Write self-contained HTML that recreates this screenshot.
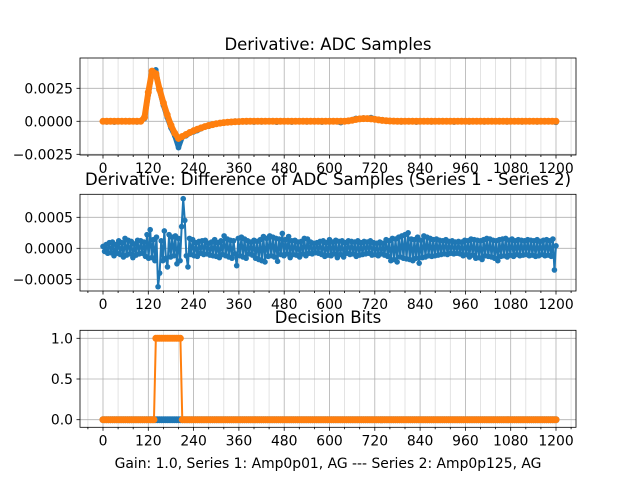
<!DOCTYPE html>
<html><head><meta charset="utf-8"><style>
html,body{margin:0;padding:0;background:#fff}
svg{display:block;font-family:"DejaVu Sans","Liberation Sans",sans-serif}
</style></head><body>
<svg id="fig" width="640" height="480" viewBox="0 0 640 480" xmlns="http://www.w3.org/2000/svg">
<rect width="640" height="480" fill="#fff"/>
<text x="328" y="50" font-size="16.5" text-anchor="middle">Derivative: ADC Samples</text>
<text x="328" y="185" font-size="16.5" text-anchor="middle">Derivative: Difference of ADC Samples (Series 1 - Series 2)</text>
<text x="328" y="323" font-size="16.5" text-anchor="middle">Decision Bits</text>
<text x="328" y="468" font-size="13.9" text-anchor="middle">Gain: 1.0, Series 1: Amp0p01, AG --- Series 2: Amp0p125, AG</text>
<g id="p1"></g>
<g id="p2"></g>
<g id="p3"></g>
</svg>
<script>
const xTicks = [0,120,240,360,480,600,720,840,960,1080,1200];
// Plot 1 (units 1e-4), one value per 10 samples
const adcOrange = [0,0,0,0,0,0,0,0,0,0,0,3,22,38,36,24,14,5,-3,-9,-13,-11.5,-10,-8.5,-7.2,-6,-5,-4,-3.2,-2.5,-1.9,-1.4,-1,-0.7,-0.5,-0.3,-0.2,-0.1,0,0,0,0,0,0,0,0,0,0,0,0,0,0,0,0,0,0,0,0,0,0,0,0,0,0,0,0.3,0.8,1.4,1.8,2,2,1.8,1.5,1.1,0.7,0.4,0.2,0.1,0,0,0,0,0,0,0,0,0,0,0,0,0,0,0,0,0,0,0,0,0,0,0,0,0,0,0,0,0,0,0,0,0,0,0,0,0,0,0,0,0,0,0];
const adcBlue = [0,-0.5,0.4,-0.6,0.3,-0.4,0.5,-0.3,0.2,-0.5,0.3,2,20,37,39,23,12,3,-5,-11,-20,-12,-11,-9,-8,-7,-5.6,-4.2,-3.8,-2.9,-2.2,-1.6,-1.2,-0.6,-0.9,0.2,-0.6,0.4,-0.5,0.3,-0.6,0.2,-0.5,0.4,-0.3,0.5,-0.7,0.2,-0.4,0.3,-0.6,0.4,-0.2,0.5,-0.5,0.3,-0.4,0.2,-0.6,0.4,-0.3,0.5,-0.4,-1,0.2,0.6,1.2,2.2,1.8,2.6,2.3,2.8,1.9,1.5,1.2,0.5,0.6,-0.2,0.4,-0.5,0.2,-0.4,0.5,-0.6,0.3,-0.3,0.4,-0.5,0.2,-0.4,0.5,-0.3,0.3,-0.6,0.4,-0.2,0.3,-0.5,0.4,-0.4,0.2,-0.5,0.5,-0.3,0.3,-0.4,0.4,-0.5,0.2,-0.3,0.4,-0.5,0.3,-0.4,0.2,-0.5,0.4,-0.3,0.3,-0.4,-0.8];
const y1Ticks = [-0.0025,0,0.0025];
const y1Labels = ["\u22120.0025","0.0000","0.0025"];
// Plot 2 (units 1e-5), evenly spread over 0..1200
const diffVals = [
3,-5,6,-8,9,-7,10,-12,6,-8,12,-10,9,-14,16,-11,13,-9,11,-15,7,-11,13,-9,12,-8,10,-13,22,-16,30,-15,14,-20,18,-62,-40,12,-20,28,-16,-30,22,-14,18,-12,20,-25,16,-20,35,80,45,-12,-30,16,-10,14,-12,9,
-13,11,-8,12,-10,13,-9,8,-11,10,-12,14,-13,9,-15,12,-10,20,-12,15,-14,13,-16,12,-9,-28,16,-12,18,-14,15,-16,12,-9,10,-11,13,-16,11,-18,14,-20,19,-22,16,-13,20,-12,18,-14,16,-21,15,-10,24,-12,14,-9,19,
-15,12,-10,13,-11,10,-14,11,-9,16,-12,15,-8,10,-9,8,-7,9,-8,11,-10,12,-13,9,-11,14,-12,10,-9,13,-15,11,-10,12,-14,9,-8,12,-10,11,-9,10,-13,12,-11,9,-10,11,-9,10,-8,12,-11,9,-10,8,-12,10,-9,8,
-11,14,-13,12,-20,16,-18,15,-22,18,-14,20,-16,22,-17,25,-18,15,-20,14,-16,18,-24,13,-15,20,-14,18,-12,16,-13,14,-12,15,-11,13,-10,12,-9,14,-10,11,-8,12,-9,10,-8,11,-9,10,-12,13,-10,12,-14,15,-11,14,
-16,13,-15,12,-18,14,-12,16,-13,15,-14,13,-16,12,-20,14,-13,15,-12,16,-14,13,-11,15,-13,12,-10,14,-12,13,-11,12,-10,14,-12,13,-11,12,-13,14,-12,11,-10,13,-12,14,-11,12,-13,15,-35,4];
const y2Ticks = [-0.0005,0,0.0005];
const y2Labels = ["\u22120.0005","0.0000","0.0005"];
// Plot 3 decision bits, runs of [value, count] at one sample per 5
const bitRunsOrange = [[0,28],[1,14],[0,199]];
const bitRunsBlue = [[0,241]];
const y3Ticks = [0,0.5,1];
const y3Labels = ["0.0","0.5","1.0"];
function expand(runs){const a=[];runs.forEach(r=>{for(let i=0;i<r[1];i++)a.push(r[0]);});return a;}
const bitsOrange = expand(bitRunsOrange);
const bitsBlue = expand(bitRunsBlue);

const NS="http://www.w3.org/2000/svg";
const X0=80,X1=576;
function xs(v){return 103+v*(453/1200);}
function mk(tag,attrs,parent){const e=document.createElementNS(NS,tag);for(const k in attrs)e.setAttribute(k,attrs[k]);parent.appendChild(e);return e;}

function axes(g,top,bottom,ys,yT,yL,series){
  for(let v=-40;v<=1240;v+=40){
    const x=xs(v); if(x<X0||x>X1) continue;
    const major=(v%120===0);
    const l=mk('line',{x1:x,x2:x,y1:top,y2:bottom,stroke:major?'#b0b0b0':'#dcdcdc','stroke-width':0.8},g);
    
    
    const t=mk('line',{x1:x,x2:x,y1:bottom,y2:bottom+(major?3.5:2),stroke:'#000','stroke-width':0.8},g);
    
    
  }
  yT.forEach((v,i)=>{
    const y=ys(v);
    const l=mk('line',{x1:X0,x2:X1,y1:y,y2:y,stroke:'#b0b0b0','stroke-width':0.8},g);
    
    
    mk('line',{x1:X0-3.5,x2:X0,y1:y,y2:y,stroke:'#000','stroke-width':0.8},g);
    const t=mk('text',{x:X0-7,y:y+5,'font-size':13.9,'text-anchor':'end'},g);
    t.textContent=yL[i];
    
    
  });
  xTicks.forEach(v=>{
    const t=mk('text',{x:xs(v),y:bottom+18,'font-size':13.9,'text-anchor':'middle'},g);
    t.textContent=String(v);
    
    
  });
  series.forEach(s=>{
    const step = s.step || 1200/(s.vals.length-1);
    const pts=s.vals.map((v,i)=>[xs(i*step),ys(v*s.scale)]);
    const p=mk('polyline',{points:pts.map(p=>p[0].toFixed(2)+','+p[1].toFixed(2)).join(' '),fill:'none',stroke:s.color,'stroke-width':s.lw,'stroke-linejoin':'round','stroke-linecap':'round'},g);
    
    
    pts.forEach(q=>{
      const c=mk('circle',{cx:q[0],cy:q[1],r:s.r,fill:s.color},g);
      
      
    });
  });
  const fr=mk('rect',{x:X0,y:top,width:X1-X0,height:bottom-top,fill:'none',stroke:'#000','stroke-width':0.8},g);
  
  
}
axes(document.getElementById('p1'),58,155,v=>121.3-v*(33/0.0025),y1Ticks,y1Labels,[
  {vals:adcBlue,step:10,scale:1e-4,color:'#1f77b4',r:2.8,lw:5,name:'series-1'},
  {vals:adcOrange,step:10,scale:1e-4,color:'#ff7f0e',r:3.5,lw:6,name:'series-2'}]);
axes(document.getElementById('p2'),194.3,291,v=>248.3-v*(31/0.0005),y2Ticks,y2Labels,[
  {vals:diffVals,step:0,scale:1e-5,color:'#1f77b4',r:2.8,lw:2,name:'difference'}]);
axes(document.getElementById('p3'),330.3,427.3,v=>419.7-v*81.4,y3Ticks,y3Labels,[
  {vals:bitsBlue,step:5,scale:1,color:'#1f77b4',r:3.5,lw:3,name:'series-1-bits'},
  {vals:bitsOrange,step:5,scale:1,color:'#ff7f0e',r:3.5,lw:2,name:'series-2-bits'}]);
</script>
</body></html>
